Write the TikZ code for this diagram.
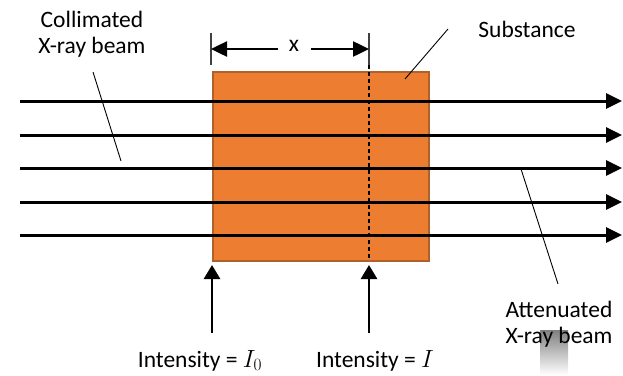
\documentclass[tikz,border=0pt]{standalone}
\usepackage{fontspec}
\setmainfont{Carlito}
\usetikzlibrary{arrows.meta}
\definecolor{subst}{HTML}{ED7D31}
\definecolor{substborder}{HTML}{B0602A}
\definecolor{shade}{HTML}{EBEBEB}
\tikzset{
  beam/.style={line width=3pt,-{Triangle[length=16pt,width=15pt]}},
  marker/.style={line width=2.7pt,-{Triangle[length=14pt,width=16pt]}},
  dimarrow/.style={line width=2.5pt,-{Triangle[length=16pt,width=15pt]}},
  tick/.style={line width=1.3pt,black!75},
  leader/.style={line width=0.9pt},
  lbl/.style={inner sep=0pt,anchor=base,font=\fontsize{23.5}{26}\selectfont}
}
\begin{document}
\begin{tikzpicture}[x=1pt,y=-1pt]
\useasboundingbox (0,0) rectangle (623,375);
% light grey patch
\fill[shade] (540,330) rectangle (568,375);
% substance block
\node[draw=substborder,line width=1.5pt,fill=subst,minimum width=216pt,minimum height=189pt,inner sep=0pt,anchor=north west] (block) at (212,71) {};
% dashed plane
\coordinate (dtop) at (369,65);
\coordinate (dbot) at (369,260);
\draw[dashed,line width=1.1pt,dash pattern=on 4pt off 3pt] (dtop) -- (dbot);
% beams
\foreach \i/\y in {1/101,2/135,3/168,4/202,5/235}{
  \coordinate (bs\i) at (20,\y);
  \coordinate (be\i) at (622,\y);
  \draw[beam] (bs\i) -- (be\i);
}
% dimension x
\coordinate (t1a) at (211,33); \coordinate (t1b) at (211,65);
\coordinate (t2a) at (369,33); \coordinate (t2b) at (369,65);
\draw[tick] (t1a) -- (t1b);
\draw[tick] (t2a) -- (t2b);
\node[lbl] (xl) at (294,51) {x};
\coordinate (dl) at (278,49); \coordinate (dr) at (311,49);
\coordinate (dlt) at (211,49); \coordinate (drt) at (369,49);
\draw[dimarrow] (dl) -- (dlt);
\draw[dimarrow] (dr) -- (drt);
% labels
\node[lbl] (coll1) at (92,27) {Collimated};
\node[lbl] (coll2) at (92,53) {X-ray beam};
\node[lbl] (subs) at (527,37) {Substance};
\node[lbl] (att1) at (559,317) {Attenuated};
\node[lbl] (att2) at (559,343) {X-ray beam};
\node[lbl] (int0) at (200,367) {Intensity = $I_0$};
\node[lbl] (int1) at (375,367) {Intensity = $I$};
% leaders
\coordinate (c1) at (93,72); \coordinate (c2) at (121,161);
\draw[leader] (c1) -- (c2);
\coordinate (s1) at (448,29); \coordinate (s2) at (405,79);
\draw[leader] (s1) -- (s2);
\coordinate (a1) at (521,169); \coordinate (a2) at (558,284);
\draw[leader] (a1) -- (a2);
% intensity markers
\coordinate (m0b) at (212,333); \coordinate (m0t) at (212,265);
\coordinate (m1b) at (369,333); \coordinate (m1t) at (369,265);
\draw[marker] (m0b) -- (m0t);
\draw[marker] (m1b) -- (m1t);
\end{tikzpicture}
\end{document}
